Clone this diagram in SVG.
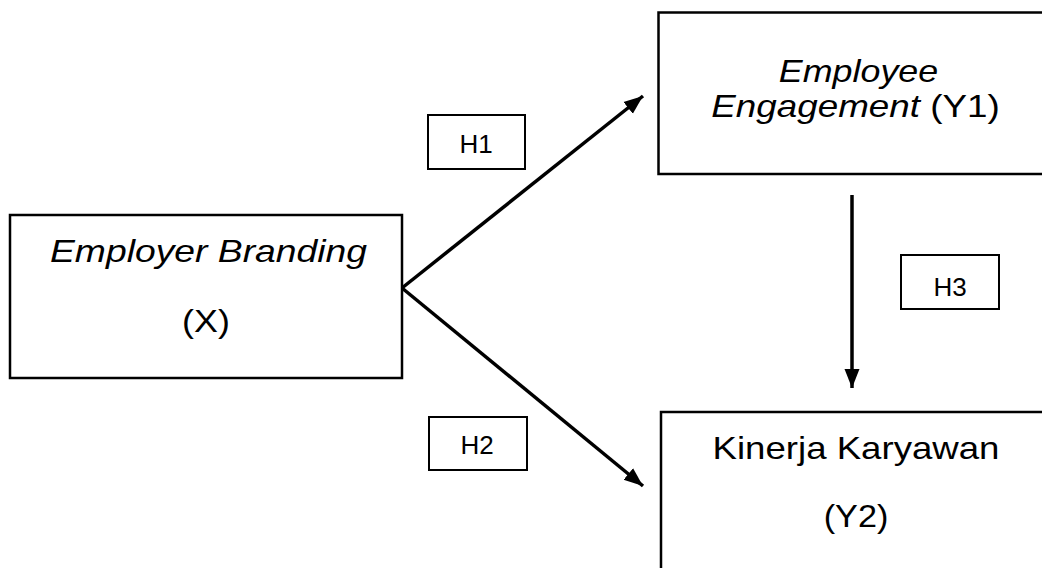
<svg xmlns="http://www.w3.org/2000/svg" width="1042" height="568" viewBox="0 0 1042 568">
  <defs>
    <style>
      .box { fill: #ffffff; stroke: #000000; stroke-width: 2.5; }
      .lbl { fill: #ffffff; stroke: #000000; stroke-width: 2; }
      .t { font-family: "Liberation Sans", Arial, sans-serif; fill: #000000; text-anchor: middle; }
      .big { font-size: 32px; }
      .small { font-size: 26px; }
      .it { font-style: italic; }
      .conn { stroke: #000000; stroke-width: 3.5; fill: none; marker-end: url(#arrow); }
    </style>
    <marker id="arrow" markerUnits="userSpaceOnUse" markerWidth="20" markerHeight="20" viewBox="0 0 20 20" refX="19" refY="10" orient="auto">
      <path d="M0,2.5 L19,10 L0,17.5 Z" fill="#000000"/>
    </marker>
  </defs>
  <rect width="1042" height="568" fill="#ffffff"/>

  <g id="connectors">
    <line class="conn" x1="402" y1="288" x2="643" y2="96"/>
    <line class="conn" x1="402" y1="288" x2="643" y2="486"/>
    <line class="conn" x1="852" y1="195" x2="852" y2="388"/>
  </g>

  <g id="node-x">
    <rect class="box" x="10" y="215" width="392" height="163"/>
    <text class="t big it" transform="translate(208.5,262) scale(1.165,1)">Employer Branding</text>
    <text class="t big" transform="translate(206,332) scale(1.12,1)">(X)</text>
  </g>

  <g id="node-y1">
    <rect class="box" x="658.5" y="12.5" width="400" height="161.5"/>
    <text class="t big it" transform="translate(858.5,82) scale(1.12,1)">Employee</text>
    <text class="t big" transform="translate(855.5,117) scale(1.15,1)"><tspan class="it">Engagement</tspan> (Y1)</text>
  </g>

  <g id="node-y2">
    <rect class="box" x="661" y="412" width="400" height="200"/>
    <text class="t big" transform="translate(856,459) scale(1.145,1)">Kinerja Karyawan</text>
    <text class="t big" transform="translate(856,527) scale(1.07,1)">(Y2)</text>
  </g>

  <g id="label-h1">
    <rect class="lbl" x="428" y="115" width="97" height="54"/>
    <text class="t small" x="476" y="153">H1</text>
  </g>
  <g id="label-h2">
    <rect class="lbl" x="429" y="417" width="98" height="53"/>
    <text class="t small" x="477" y="454">H2</text>
  </g>
  <g id="label-h3">
    <rect class="lbl" x="901" y="255" width="98" height="54"/>
    <text class="t small" x="950" y="296">H3</text>
  </g>
</svg>
